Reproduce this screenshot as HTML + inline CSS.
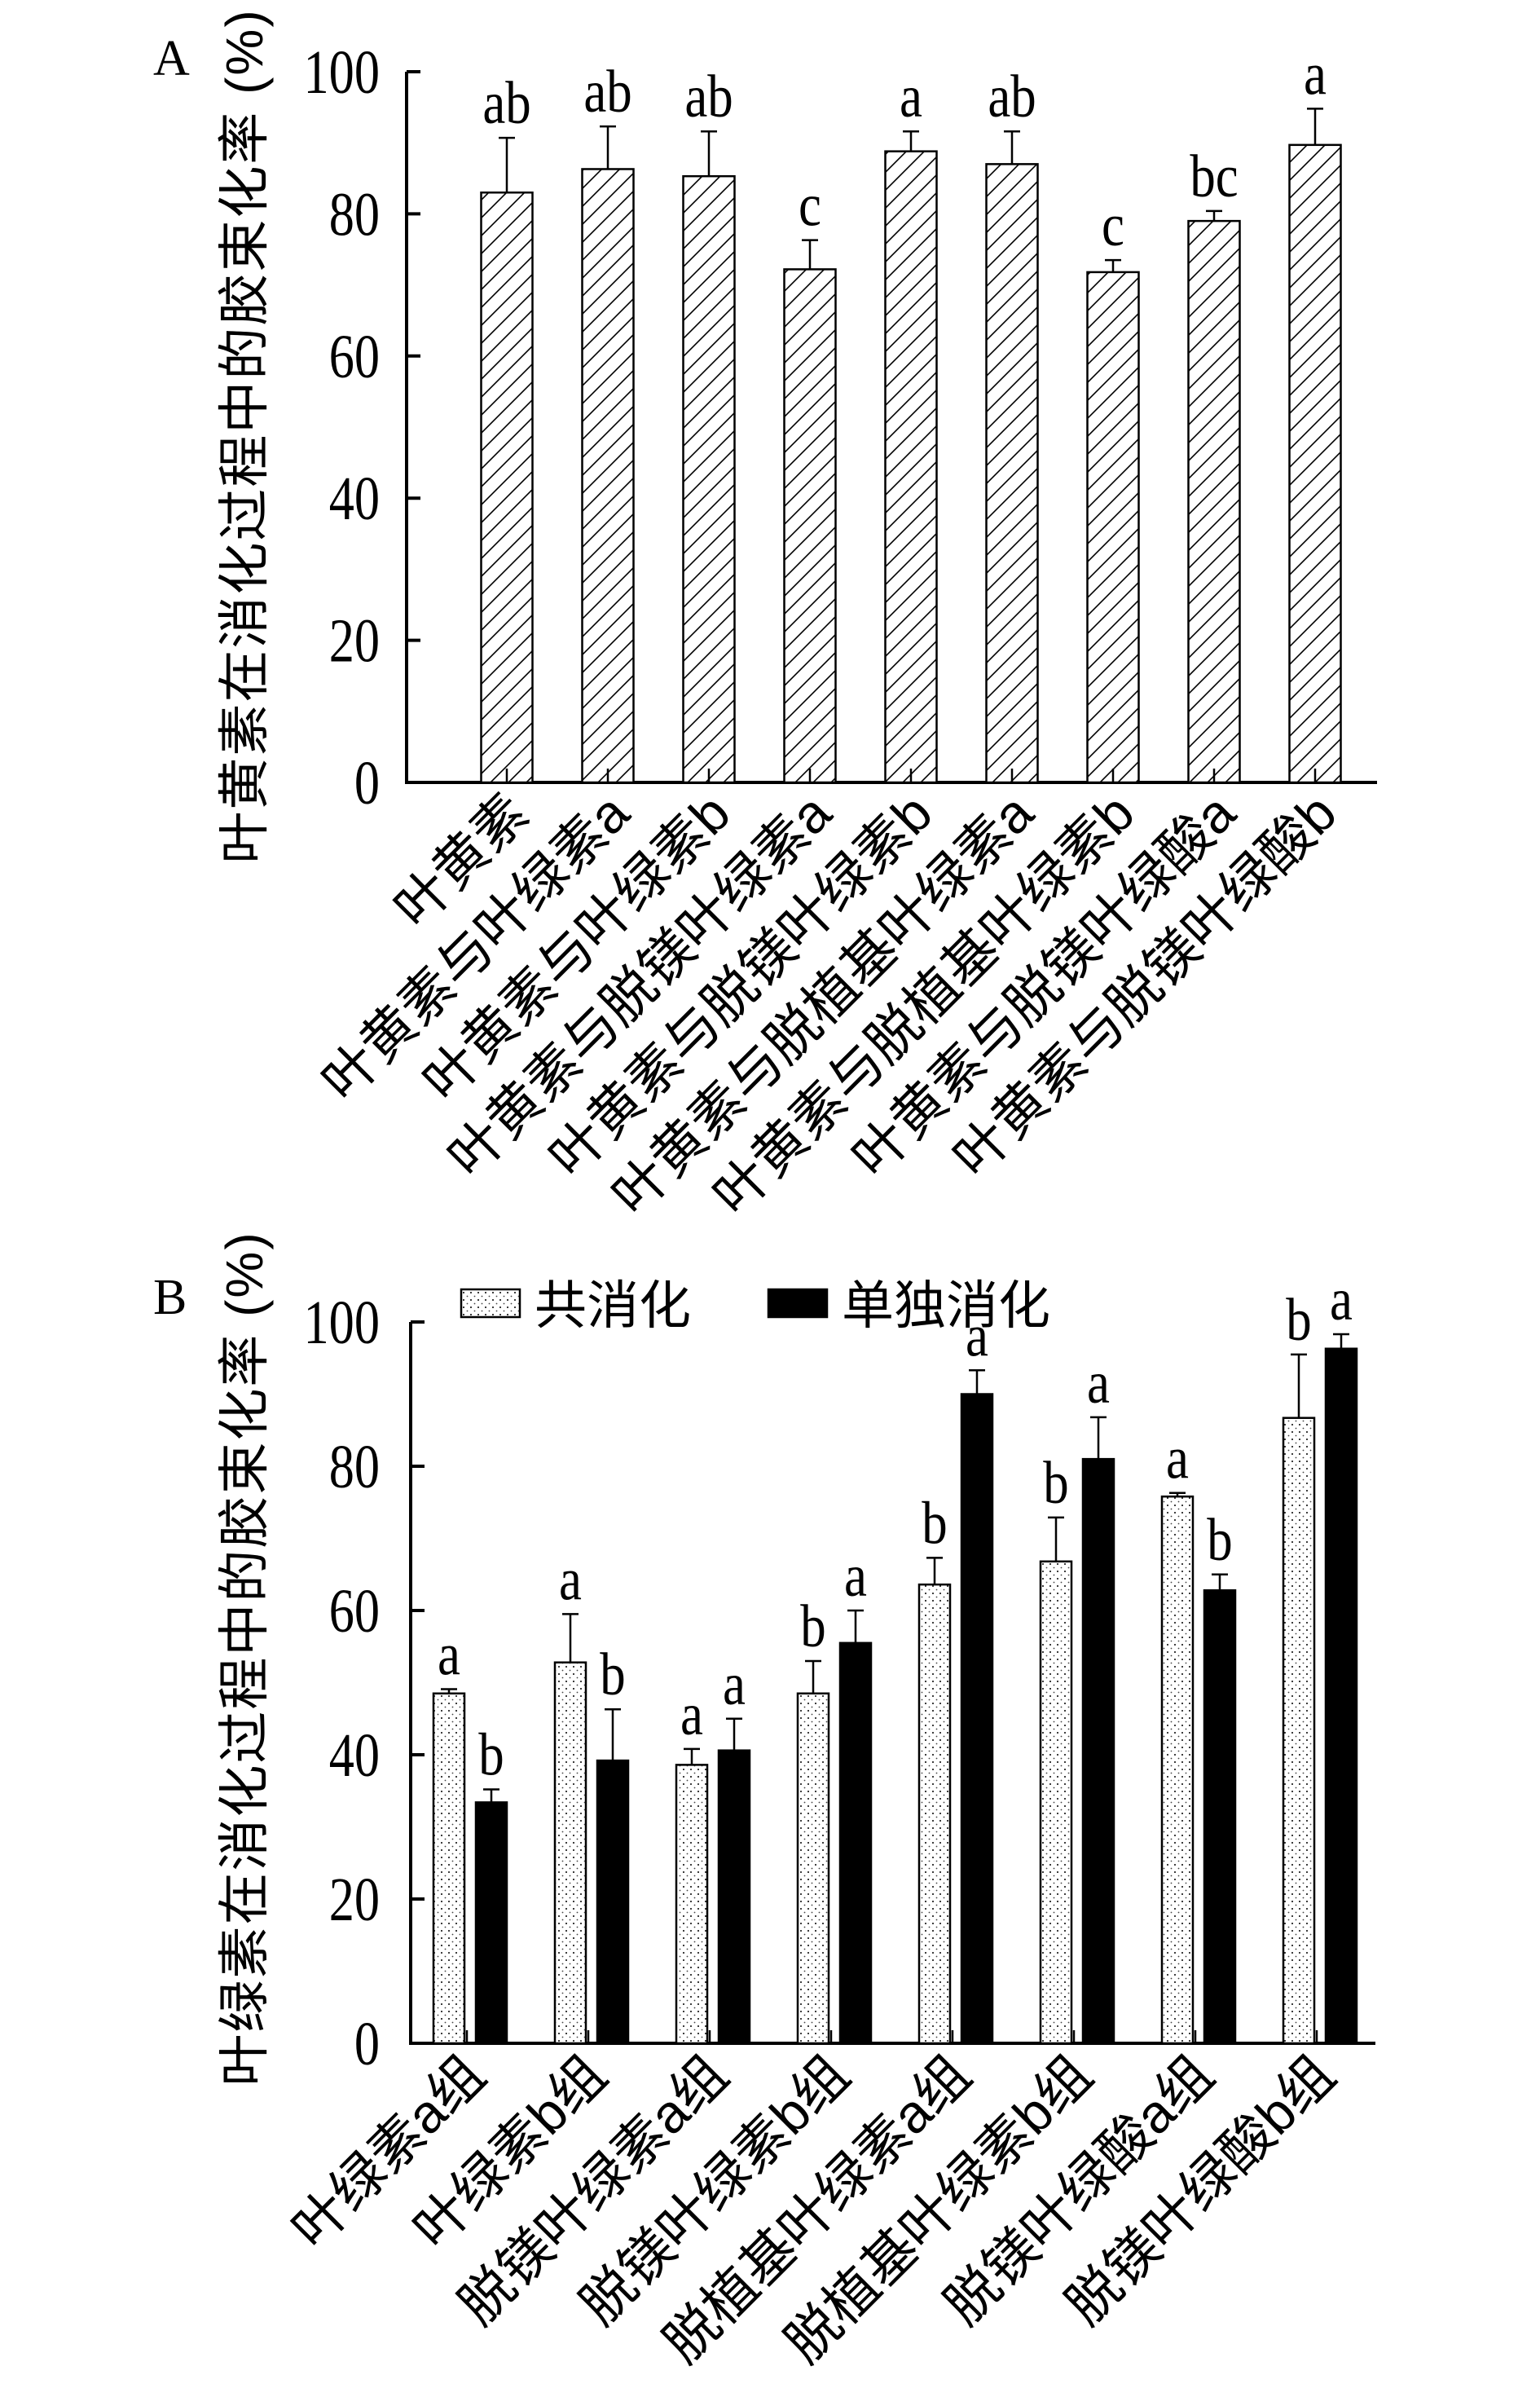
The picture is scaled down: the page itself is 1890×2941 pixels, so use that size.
<!DOCTYPE html>
<html><head><meta charset="utf-8"><style>
html,body{margin:0;padding:0;background:#fff}
svg text{font-family:"Liberation Serif","Noto Serif CJK SC",serif;fill:#000}
.cjk{font-family:"Liberation Sans","Noto Sans CJK SC",sans-serif}
</style></head><body>
<svg id="fig" width="1890" height="2936" viewBox="0 0 1890 2936" xmlns="http://www.w3.org/2000/svg">
<defs>
<pattern id="hatch" patternUnits="userSpaceOnUse" width="22" height="22">
<rect width="22" height="22" fill="#fff"/>
<path d="M-2,24 L24,-2 M-13,13 L13,-13 M9,35 L35,9" stroke="#000" stroke-width="1.6"/>
</pattern>
<pattern id="dots" patternUnits="userSpaceOnUse" width="9" height="9">
<rect width="9" height="9" fill="#fff"/>
<circle cx="2" cy="2" r="1" fill="#000"/><circle cx="6.5" cy="6.5" r="0.9" fill="#444"/>
</pattern>
</defs>
<g id="chartA"></g>
<g id="chartB"></g>
</svg>
<script>
const catsA = ["叶黄素","叶黄素与叶绿素a","叶黄素与叶绿素b","叶黄素与脱镁叶绿素a","叶黄素与脱镁叶绿素b","叶黄素与脱植基叶绿素a","叶黄素与脱植基叶绿素b","叶黄素与脱镁叶绿酸a","叶黄素与脱镁叶绿酸b"];
const valsA = [83.0,86.3,85.3,72.2,88.8,87.0,71.8,79.0,89.7];
const errA = [7.7,6.0,6.3,4.1,2.8,4.6,1.7,1.4,5.1];
const sigA = ["ab","ab","ab","c","a","ab","c","bc","a"];
const ticks = [0,20,40,60,80,100];

const catsB = ["叶绿素a组","叶绿素b组","脱镁叶绿素a组","脱镁叶绿素b组","脱植基叶绿素a组","脱植基叶绿素b组","脱镁叶绿酸a组","脱镁叶绿酸b组"];
const coVals = [48.5,52.8,38.6,48.5,63.6,66.8,75.8,86.7];
const coErr = [0.6,6.7,2.2,4.5,3.7,6.1,0.5,8.8];
const coSig = ["a","a","a","b","b","b","a","b"];
const soloVals = [33.4,39.2,40.6,55.5,90.0,81.0,62.8,96.3];
const soloErr = [1.8,7.1,4.4,4.5,3.3,5.8,2.2,2.0];
const soloSig = ["b","b","a","a","a","a","b","a"];

const NS="http://www.w3.org/2000/svg";
function mk(parent,tag,attrs,text){const e=document.createElementNS(NS,tag);for(const k in attrs)e.setAttribute(k,attrs[k]);if(text!==undefined)e.textContent=text;parent.appendChild(e);return e;}

function axes(g,x0,x1,yTop,yBot,title,titleCY,panel,panelY){
  const y=v=>yBot-(yBot-yTop)*v/100;
  const ax=mk(g,'path',{d:`M${x0},${yTop} V${yBot} H${x1}`,stroke:'#000','stroke-width':4,fill:'none'});
  
  
  ticks.forEach(t=>{
    const tk=mk(g,'line',{x1:x0,x2:x0+17,y1:y(t),y2:y(t),stroke:'#000','stroke-width':4});
    
    
    const tl=mk(g,'text',{x:0,y:0,'font-size':76,'text-anchor':'end',transform:`translate(466,${y(t)+26}) scale(0.82,1)`},String(t));
    
    
  });
  const tt=mk(g,'text',{x:0,y:0,'font-size':64,'text-anchor':'middle',class:'cjk','letter-spacing':2,transform:`translate(322,${titleCY}) rotate(-90)`},title);
  
  
  const pl=mk(g,'text',{x:188,y:panelY,'font-size':62},panel);
  
  
  return y;
}
function errbar(g,cx,yv,ye){
  const e=mk(g,'path',{d:`M${cx},${yv} V${ye} M${cx-10},${ye} H${cx+10}`,stroke:'#000','stroke-width':2.5,fill:'none'});
  
  
}
function sig(g,cx,ye,s){
  const t=mk(g,'text',{x:0,y:0,'font-size':74,'text-anchor':'middle',transform:`translate(${cx},${ye-18}) scale(0.85,1)`},s);
  
  
}
function xlabel(g,ex,ey,s){
  const t=mk(g,'text',{x:0,y:0,'font-size':66,'text-anchor':'end',class:'cjk',transform:`translate(${ex},${ey}) rotate(-45)`},s);
  
  
}

// Chart A
(function(){
  const g=document.getElementById('chartA');
  const yBot=960;
  const y=axes(g,499,1690,88,yBot,'叶黄素在消化过程中的胶束化率 (%)',535,'A',92);
  const step=124, first=622, bw=63;
  catsA.forEach((c,i)=>{
    const cx=first+i*step;
    const r=mk(g,'rect',{x:cx-bw/2,y:y(valsA[i]),width:bw,height:yBot-y(valsA[i]),fill:'url(#hatch)',stroke:'#000','stroke-width':2.5});
    
    
    const ye=y(valsA[i]+errA[i]);
    errbar(g,cx,y(valsA[i]),ye);
    sig(g,cx,ye,sigA[i]);
    const tk=mk(g,'line',{x1:cx,x2:cx,y1:yBot,y2:yBot-17,stroke:'#000','stroke-width':2.5});
    
    
    xlabel(g,cx+30,1002,c);
  });
})();

// Chart B
(function(){
  const g=document.getElementById('chartB');
  const yBot=2507;
  const y=axes(g,504,1688,1622,yBot,'叶绿素在消化过程中的胶束化率 (%)',2035,'B',1612);
  const step=149, first=577, bw=38, off=26;
  const l1=mk(g,'rect',{x:566,y:1582,width:72,height:34,fill:'url(#dots)',stroke:'#000','stroke-width':2.5});
  
  
  const lt1=mk(g,'text',{x:656,y:1624,'font-size':64,class:'cjk'},'共消化');
  
  
  const l2=mk(g,'rect',{x:943,y:1582,width:72,height:34,fill:'#000',stroke:'#000','stroke-width':2.5});
  
  
  const lt2=mk(g,'text',{x:1033,y:1624,'font-size':64,class:'cjk'},'单独消化');
  
  
  catsB.forEach((c,i)=>{
    const cx=first+i*step;
    const c1=cx-off, c2=cx+off;
    const r1=mk(g,'rect',{x:c1-bw/2,y:y(coVals[i]),width:bw,height:yBot-y(coVals[i]),fill:'url(#dots)',stroke:'#000','stroke-width':2.5});
    
    
    const r2=mk(g,'rect',{x:c2-bw/2,y:y(soloVals[i]),width:bw,height:yBot-y(soloVals[i]),fill:'#000',stroke:'#000','stroke-width':2.5});
    
    
    const ye1=y(coVals[i]+coErr[i]), ye2=y(soloVals[i]+soloErr[i]);
    errbar(g,c1,y(coVals[i]),ye1);
    errbar(g,c2,y(soloVals[i]),ye2);
    sig(g,c1,ye1,coSig[i]);
    sig(g,c2,ye2,soloSig[i]);
    const tk=mk(g,'line',{x1:cx-4,x2:cx-4,y1:yBot,y2:yBot-16,stroke:'#000','stroke-width':2.5});
    
    
    xlabel(g,cx+22,2550,c);
  });
})();
</script>
</body></html>
